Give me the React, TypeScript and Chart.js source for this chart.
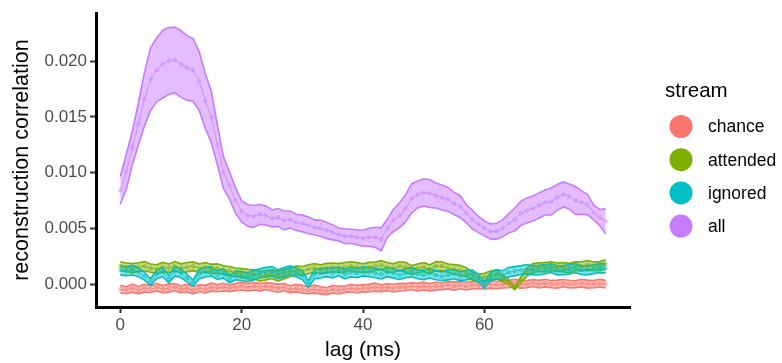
import React, { useEffect, useRef } from "react";
import { Chart, registerables } from "chart.js";

Chart.register(...registerables);

const FONT = '"Liberation Sans", Arial, Helvetica, sans-serif';

const lags = [
  0, 1, 2, 3, 4, 5, 6, 7, 8, 9,
  10, 11, 12, 13, 14, 15, 16, 17, 18, 19,
  20, 21, 22, 23, 24, 25, 26, 27, 28, 29,
  30, 31, 32, 33, 34, 35, 36, 37, 38, 39,
  40, 41, 42, 43, 44, 45, 46, 47, 48, 49,
  50, 51, 52, 53, 54, 55, 56, 57, 58, 59,
  60, 61, 62, 63, 64, 65, 66, 67, 68, 69,
  70, 71, 72, 73, 74, 75, 76, 77, 78, 79,
  80,
];

const streams = ["chance", "attended", "ignored", "all"];
const colors = ["#F8766D", "#7CAE00", "#00BFC4", "#C77CFF"];

const chanceMean = [
  -0.00045, -0.00054, -0.00036, -0.00054, -0.00036, -0.00045, -0.00027, -0.00045, -0.00036, -0.00027,
  -0.00045, -0.00036, -0.00054, -0.00036, -0.00045, -0.00027, -0.00036, -0.00027, -0.00036, -0.00027,
  -0.00018, -0.00027, -0.00018, -0.00027, -0.00018, -0.00027, -0.00036, -0.00027, -0.00045, -0.00036,
  -0.00045, -0.00054, -0.00045, -0.00054, -0.00063, -0.00045, -0.00054, -0.00045, -0.00036, -0.00045,
  -0.00036, -0.00036, -0.00027, -0.00036, -0.00027, -0.00036, -0.00027, -0.00027, -0.00018, -0.00027,
  -0.00018, -0.00027, -0.00018, -0.00018, -0.00009, -0.00018, -0.00009, -0.00018, -0.00009, -0.00009,
  -0.00009, 0.0, -0.00009, 0.0, 0.0, 0.00009, 0.0, 0.0, 0.00009, 0.0,
  0.00009, 0.0, 0.0, 0.00009, 0.0, 0.0, 0.00009, 0.0, 0.0, 0.00009,
  0.0,
];
const chanceSe = [
  0.00034, 0.00031, 0.00036, 0.00033, 0.00035, 0.0003, 0.00034, 0.00032, 0.00036, 0.00033,
  0.00031, 0.00035, 0.00033, 0.0003, 0.00034, 0.00036, 0.00032, 0.00035, 0.00031, 0.00033,
  0.00034, 0.00032, 0.00035, 0.00033, 0.0003, 0.00034, 0.00036, 0.00033, 0.00031, 0.00035,
  0.00034, 0.00032, 0.00036, 0.00033, 0.00031, 0.00035, 0.00034, 0.0003, 0.00033, 0.00035,
  0.00032, 0.00034, 0.00036, 0.00031, 0.00033, 0.00035, 0.00034, 0.00032, 0.0003, 0.00034,
  0.00036, 0.00033, 0.00035, 0.00031, 0.00034, 0.00036, 0.00032, 0.00035, 0.00033, 0.00031,
  0.00034, 0.00036, 0.00033, 0.00035, 0.00032, 0.00034, 0.00036, 0.00033, 0.00031, 0.00035,
  0.00034, 0.00032, 0.00036, 0.00033, 0.00035, 0.00031, 0.00034, 0.00036, 0.00033, 0.00035,
  0.00034,
];

const attendedMean = [
  0.00161, 0.00152, 0.00143, 0.00152, 0.00161, 0.00143, 0.00134, 0.00152, 0.00143, 0.00161,
  0.00143, 0.00152, 0.00161, 0.00143, 0.00152, 0.00134, 0.00143, 0.00125, 0.00116, 0.00107,
  0.00098, 0.00089, 0.00089, 0.00071, 0.0008, 0.00089, 0.00071, 0.00089, 0.00107, 0.00125,
  0.00116, 0.00134, 0.00143, 0.00134, 0.00143, 0.00152, 0.00143, 0.00152, 0.00161, 0.00152,
  0.00143, 0.00152, 0.00161, 0.0017, 0.00152, 0.00143, 0.00161, 0.00152, 0.00125, 0.00143,
  0.00152, 0.00134, 0.00161, 0.00161, 0.00143, 0.00134, 0.00125, 0.00107, 0.00071, 0.00054,
  0.00063, 0.0008, 0.00089, 0.00054, 0.00018, -0.00036, 0.00036, 0.00107, 0.00143, 0.00152,
  0.00152, 0.00161, 0.00152, 0.00152, 0.00143, 0.00161, 0.00161, 0.0017, 0.00161, 0.00161,
  0.00179,
];
const attendedSe = [
  0.0004, 0.00038, 0.00042, 0.00039, 0.00041, 0.00037, 0.0004, 0.00043, 0.00038, 0.00041,
  0.00039, 0.00042, 0.0004, 0.00038, 0.00041, 0.00043, 0.00039, 0.0004, 0.00042, 0.00038,
  0.00041, 0.00043, 0.0004, 0.00045, 0.00042, 0.00039, 0.00044, 0.00041, 0.0004, 0.00038,
  0.00042, 0.00039, 0.00041, 0.0004, 0.00043, 0.00038, 0.00041, 0.00042, 0.00039, 0.00041,
  0.0004, 0.00043, 0.00038, 0.00041, 0.00042, 0.00039, 0.0004, 0.00043, 0.00041, 0.00038,
  0.00041, 0.00039, 0.00042, 0.0004, 0.00038, 0.00041, 0.00043, 0.0004, 0.00036, 0.00034,
  0.00035, 0.00038, 0.0004, 0.0003, 0.00022, 0.00012, 0.00028, 0.00038, 0.00041, 0.00039,
  0.00042, 0.0004, 0.00038, 0.00041, 0.00043, 0.00039, 0.0004, 0.00042, 0.00038, 0.00041,
  0.0004,
];

const ignoredMean = [
  0.00125, 0.00116, 0.00125, 0.00107, 0.00071, 0.00018, 0.00089, 0.00107, 0.00045, 0.00116,
  0.00098, 0.00054, 0.00009, 0.00089, 0.00107, 0.00116, 0.0008, 0.00098, 0.00045, 0.0008,
  0.00071, 0.00063, 0.0008, 0.00098, 0.00107, 0.00116, 0.00089, 0.00107, 0.00125, 0.00107,
  0.0008, 0.0, 0.00089, 0.00098, 0.00107, 0.00098, 0.00116, 0.00089, 0.00107, 0.00098,
  0.00116, 0.00107, 0.00098, 0.00089, 0.00107, 0.00098, 0.0008, 0.00098, 0.00107, 0.00089,
  0.0008, 0.00098, 0.0008, 0.00071, 0.0008, 0.00089, 0.00071, 0.0008, 0.00089, 0.00054,
  -0.00009, 0.00063, 0.00089, 0.0008, 0.00107, 0.00116, 0.00125, 0.00134, 0.00125, 0.00125,
  0.00134, 0.00143, 0.00125, 0.00125, 0.00134, 0.00143, 0.00125, 0.00125, 0.00134, 0.00143,
  0.00143,
];
const ignoredSe = [
  0.00042, 0.0004, 0.00043, 0.00039, 0.00035, 0.0003, 0.00038, 0.00041, 0.00033, 0.00042,
  0.00039, 0.00034, 0.00028, 0.0004, 0.00043, 0.00041, 0.00038, 0.00042, 0.00032, 0.0004,
  0.00041, 0.00039, 0.00042, 0.0004, 0.00043, 0.00041, 0.00039, 0.00042, 0.0004, 0.00041,
  0.00038, 0.0003, 0.00041, 0.00043, 0.0004, 0.00042, 0.00039, 0.00041, 0.00043, 0.0004,
  0.00042, 0.00039, 0.00041, 0.00043, 0.0004, 0.00042, 0.00038, 0.00041, 0.00043, 0.0004,
  0.00041, 0.00043, 0.0004, 0.00038, 0.00042, 0.00041, 0.00039, 0.00042, 0.0004, 0.00035,
  0.00028, 0.00037, 0.00041, 0.0004, 0.00043, 0.00041, 0.00039, 0.00042, 0.0004, 0.00043,
  0.00041, 0.00039, 0.00042, 0.0004, 0.00043, 0.00041, 0.00039, 0.00042, 0.0004, 0.00041,
  0.00042,
];

const allMean = [
  0.00839, 0.01009, 0.01223, 0.01438, 0.01661, 0.01839, 0.0192, 0.01973, 0.02, 0.02009,
  0.01973, 0.01938, 0.0192, 0.01821, 0.01643, 0.015, 0.0125, 0.01, 0.00884, 0.0075,
  0.00652, 0.00616, 0.00607, 0.00625, 0.00616, 0.00589, 0.00598, 0.00571, 0.0058, 0.00554,
  0.00545, 0.00527, 0.00509, 0.005, 0.00482, 0.00464, 0.00446, 0.00429, 0.00429, 0.0042,
  0.00411, 0.0042, 0.0042, 0.00402, 0.005, 0.00571, 0.00616, 0.00679, 0.00768, 0.00804,
  0.00821, 0.00813, 0.00795, 0.00777, 0.00759, 0.00723, 0.00696, 0.00634, 0.0058, 0.00536,
  0.005, 0.00473, 0.00473, 0.005, 0.00545, 0.0058, 0.00634, 0.00661, 0.00679, 0.00705,
  0.00732, 0.00741, 0.00777, 0.00804, 0.00786, 0.0075, 0.00732, 0.00714, 0.00643, 0.00598,
  0.00563,
];
const allSe = [
  0.00125, 0.00157, 0.00152, 0.00188, 0.00242, 0.00281, 0.00286, 0.00304, 0.003, 0.00295,
  0.00299, 0.0029, 0.00281, 0.00264, 0.00246, 0.00232, 0.00179, 0.00143, 0.00121, 0.00116,
  0.00094, 0.00098, 0.00098, 0.00089, 0.00085, 0.00076, 0.0008, 0.00085, 0.00076, 0.00072,
  0.00076, 0.00076, 0.00067, 0.00072, 0.00072, 0.00067, 0.00058, 0.00067, 0.00063, 0.00067,
  0.00072, 0.00081, 0.0009, 0.00103, 0.00081, 0.00099, 0.00112, 0.00121, 0.0013, 0.00121,
  0.00121, 0.00125, 0.00112, 0.00112, 0.00107, 0.00099, 0.00099, 0.0008, 0.00085, 0.00072,
  0.00067, 0.00067, 0.00072, 0.00076, 0.00085, 0.00103, 0.00107, 0.00112, 0.00112, 0.00112,
  0.00112, 0.00121, 0.00116, 0.00112, 0.00112, 0.00125, 0.00107, 0.0009, 0.00067, 0.00072,
  0.00112,
];

const xTicks = [0, 20, 40, 60];
const yTicks = [0, 0.005, 0.01, 0.015, 0.02];
const xTitle = "lag (ms)";
const yTitle = "reconstruction correlation";
const legendTitle = "stream";

function rgba(hex: string, a: number) {
  const n = parseInt(hex.slice(1), 16);
  return `rgba(${(n >> 16) & 255},${(n >> 8) & 255},${n & 255},${a})`;
}

const overlay = {
  id: "overlay",
  afterDraw(chart: any) {
    const ctx = chart.ctx;
    const ca = chart.chartArea;
    ctx.save();
    ctx.fillStyle = "#000000";
    ctx.font = `21px ${FONT}`;
    ctx.textAlign = "center";
    ctx.textBaseline = "middle";
    ctx.fillText(xTitle, (ca.left + ca.right) / 2, 350);
    ctx.save();
    ctx.translate(22, (ca.top + ca.bottom) / 2);
    ctx.rotate(-Math.PI / 2);
    ctx.font = `21.5px ${FONT}`;
    ctx.fillText(yTitle, 0, 0);
    ctx.restore();

    // legend
    ctx.textAlign = "left";
    ctx.font = `20.5px ${FONT}`;
    ctx.fillText(legendTitle, 665, 91);
    ctx.font = `17.5px ${FONT}`;
    streams.forEach((s, i) => {
      const cy = 126.5 + i * 33.2;
      ctx.beginPath();
      ctx.arc(681, cy, 11.5, 0, Math.PI * 2);
      ctx.fillStyle = colors[i];
      ctx.fill();
      ctx.fillStyle = "#000000";
      ctx.fillText(s, 708, cy + 1);
    });
    ctx.restore();
  },
};

export default function App() {
  const ref = useRef<HTMLCanvasElement>(null);
  useEffect(() => {
    if (!ref.current) return;
    const means = [chanceMean, attendedMean, ignoredMean, allMean];
    const ses = [chanceSe, attendedSe, ignoredSe, allSe];
    const datasets: any[] = [];
    means.forEach((m, i) => {
      const c = colors[i];
      const ord = 40 - i * 2;
      datasets.push({
        label: streams[i] + " upper",
        data: lags.map((x, j) => ({ x, y: m[j] + ses[i][j] })),
        borderColor: c,
        borderWidth: 1.6,
        pointRadius: 0,
        fill: "+1",
        backgroundColor: rgba(c, 0.5),
        order: ord,
      });
      datasets.push({
        label: streams[i] + " lower",
        data: lags.map((x, j) => ({ x, y: m[j] - ses[i][j] })),
        borderColor: c,
        borderWidth: 1.6,
        pointRadius: 0,
        fill: false,
        order: ord - 1,
      });
    });
    means.forEach((m, i) => {
      const c = colors[i];
      datasets.push({
        label: streams[i],
        data: lags.map((x, j) => ({ x, y: m[j] })),
        borderColor: rgba(c, 0.7),
        borderWidth: 1,
        pointRadius: 1.6,
        pointBorderWidth: 0.8,
        pointBorderColor: rgba(c, 0.85),
        pointBackgroundColor: "rgba(255,255,255,0)",
        fill: false,
        order: 4 - i,
      });
    });

    const chart = new Chart(ref.current, {
      type: "line",
      data: { datasets },
      options: {
        animation: false,
        responsive: false,
        devicePixelRatio: 1,
        events: [],
        layout: { padding: { left: 0, right: 152, top: 12, bottom: 0 } },
        elements: { line: { tension: 0 } },
        plugins: {
          legend: { display: false },
          tooltip: { enabled: false },
          filler: { propagate: false },
        },
        scales: {
          x: {
            type: "linear",
            min: -4,
            max: 84,
            afterBuildTicks: (s: any) => {
              s.ticks = xTicks.map((v) => ({ value: v }));
            },
            afterFit: (s: any) => {
              s.height = 56;
            },
            ticks: {
              color: "#4D4D4D",
              font: { family: FONT, size: 17 },
              padding: 2,
              maxRotation: 0,
              autoSkip: false,
              callback: (v: any) => String(v),
            },
            grid: {
              display: true,
              drawOnChartArea: false,
              drawTicks: true,
              tickLength: 6,
              tickColor: "#333333",
              tickWidth: 2,
              color: "#333333",
            },
            border: { display: true, color: "#000000", width: 3 },
          },
          y: {
            type: "linear",
            min: -0.00205,
            max: 0.02429,
            afterBuildTicks: (s: any) => {
              s.ticks = yTicks.map((v) => ({ value: v }));
            },
            afterFit: (s: any) => {
              s.width = 96;
            },
            ticks: {
              color: "#4D4D4D",
              font: { family: FONT, size: 17 },
              padding: 3,
              autoSkip: false,
              callback: (v: any) => Number(v).toFixed(3),
            },
            grid: {
              display: true,
              drawOnChartArea: false,
              drawTicks: true,
              tickLength: 6,
              tickColor: "#333333",
              tickWidth: 2,
              color: "#333333",
            },
            border: { display: true, color: "#000000", width: 3 },
          },
        },
      } as any,
      plugins: [overlay],
    });
    return () => chart.destroy();
  }, []);

  return (
    <div style={{ position: "absolute", left: 0, top: 0, width: 782, height: 363, background: "#ffffff" }}>
      <canvas ref={ref} width={782} height={363} style={{ display: "block" }} />
    </div>
  );
}
